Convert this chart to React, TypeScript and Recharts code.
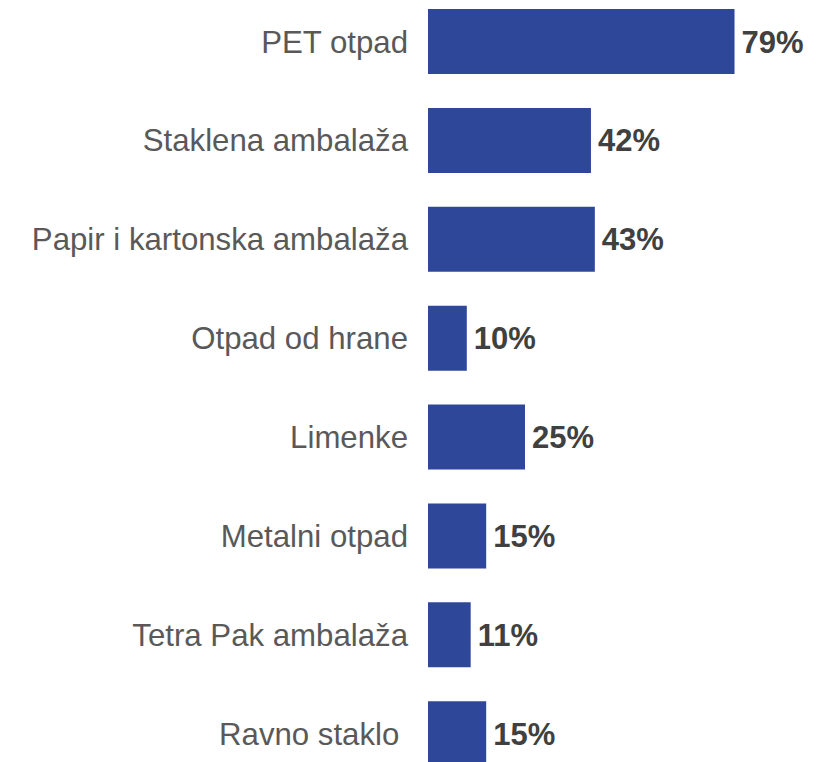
import React from 'react';
import { BarChart, Bar, XAxis, YAxis, LabelList } from 'recharts';

const categories = [
  'PET otpad',
  'Staklena ambalaža',
  'Papir i kartonska ambalaža',
  'Otpad od hrane',
  'Limenke',
  'Metalni otpad',
  'Tetra Pak ambalaža',
  'Ravno staklo\u00A0',
];
const shares = [79, 42, 43, 10, 25, 15, 11, 15];

const data = categories.map((name, i) => ({ name, value: shares[i] }));

export default function App() {
  return (
    <div style={{ position: 'fixed', left: 0, top: 0, width: 821, height: 762, overflow: 'hidden', background: '#fff' }}>
      <div style={{ marginTop: -8 }}>
        <BarChart
          width={821}
          height={791}
          data={data}
          layout="vertical"
          margin={{ top: 0, right: 5, bottom: 0, left: 0 }}
          barCategoryGap={0}
          style={{ fontFamily: '"Liberation Sans", Arial, sans-serif' }}
        >
          <XAxis type="number" domain={[0, 100]} hide />
          <YAxis
            type="category"
            dataKey="name"
            width={428}
            axisLine={false}
            tickLine={false}
            tickSize={0}
            tickMargin={20}
            interval={0}
            tick={{ fill: '#595959', fontSize: 31.2 }}
          />
          <Bar dataKey="value" fill="#2F4799" barSize={65} isAnimationActive={false}>
            <LabelList
              dataKey="value"
              position="right"
              offset={7}
              formatter={(v: number) => `${v}%`}
              style={{ fill: '#404040', fontSize: 31, fontWeight: 700 }}
            />
          </Bar>
        </BarChart>
      </div>
    </div>
  );
}
